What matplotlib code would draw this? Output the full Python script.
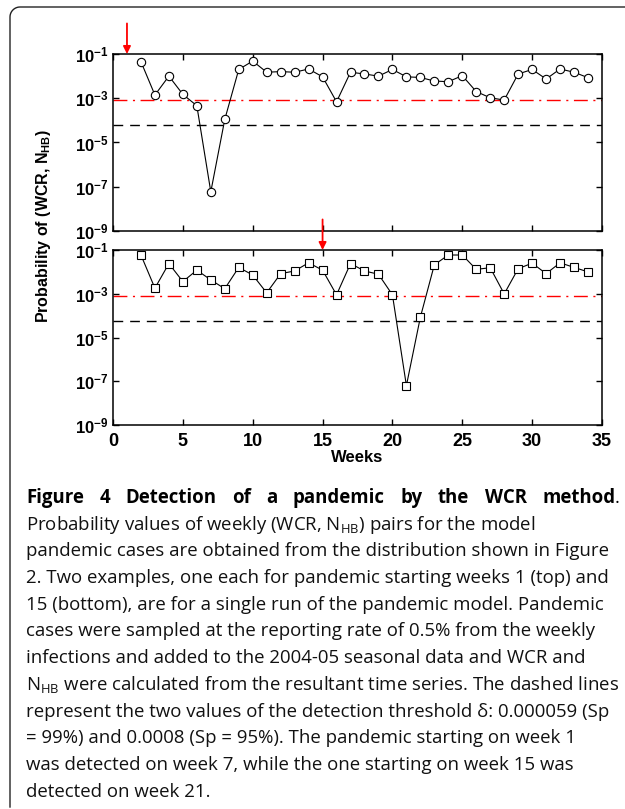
import matplotlib
matplotlib.use('Agg')
import matplotlib.pyplot as plt
import numpy as np
from matplotlib.lines import Line2D

# ---------------- data ----------------
weeks = list(range(2, 35))
prob_top = [0.045, 1.4e-3, 0.010, 1.5e-3, 4.6e-4, 5.9e-8, 1.1e-4, 0.020, 0.048,
            0.015, 0.016, 0.015, 0.021, 0.0093, 6.9e-4,
            0.015, 0.0125, 0.010, 0.020, 0.0093, 0.0087, 0.0060, 0.0056, 0.0105,
            0.0020, 1.05e-3, 8.3e-4, 0.0125, 0.020, 0.0074, 0.021, 0.015, 0.0085]
prob_bottom = [0.059, 1.8e-3, 0.024, 3.6e-3, 0.012, 4.3e-3, 1.7e-3, 0.016, 7.2e-3,
               1.1e-3, 8.3e-3, 0.011, 0.026, 0.012, 8.9e-4,
               0.024, 0.011, 7.8e-3, 8.9e-4, 6.3e-8, 8.5e-5, 0.021, 0.059, 0.059,
               0.013, 0.0155, 9.8e-4, 0.014, 0.025, 8.3e-3, 0.026, 0.016, 0.010]
threshold_99 = 5.9e-5
threshold_95 = 8e-4
start_weeks = [1, 15]
x_ticks = [0, 5, 10, 15, 20, 25, 30, 35]
y_ticks = [1e-1, 1e-3, 1e-5, 1e-7, 1e-9]
y_tick_labels = [r'$\mathregular{10^{-1}}$', r'$\mathregular{10^{-3}}$', r'$\mathregular{10^{-5}}$',
                 r'$\mathregular{10^{-7}}$', r'$\mathregular{10^{-9}}$']
x_label = 'Weeks'
y_label = r'Probability of (WCR, N$_{\mathregular{HB}}$)'

title_words = ['Figure', '4', 'Detection', 'of', 'a', 'pandemic', 'by', 'the', 'WCR', 'method']
caption_lines = [
    r'Probability values of weekly (WCR, N$_{\mathregular{HB}}$) pairs for the model',
    'pandemic cases are obtained from the distribution shown in Figure',
    '2. Two examples, one each for pandemic starting weeks 1 (top) and',
    '15 (bottom), are for a single run of the pandemic model. Pandemic',
    'cases were sampled at the reporting rate of 0.5% from the weekly',
    'infections and added to the 2004-05 seasonal data and WCR and',
    r'N$_{\mathregular{HB}}$ were calculated from the resultant time series. The dashed lines',
    'represent the two values of the detection threshold δ: 0.000059 (Sp',
    '= 99%) and 0.0008 (Sp = 95%). The pandemic starting on week 1',
    'was detected on week 7, while the one starting on week 15 was',
    'detected on week 21.',
]

# ---------------- figure ----------------
W, H = 625, 809
fig = plt.figure(figsize=(W / 100, H / 100), dpi=100)
fig.patch.set_facecolor('white')

def px_rect(l, t, r, b):
    return [l / W, 1 - b / H, (r - l) / W, (b - t) / H]

ax1 = fig.add_axes(px_rect(113, 54, 602, 231))
ax2 = fig.add_axes(px_rect(113, 250, 602, 425))

tick_font = dict(family='Liberation Sans', weight='bold')

for ax, data, marker, ms, sw in [(ax1, prob_top, 'o', 6.0, start_weeks[0]),
                                  (ax2, prob_bottom, 's', 5.2, start_weeks[1])]:
    ax.set_yscale('log')
    ax.plot(weeks, data, color='black', lw=0.8, marker=marker, ms=ms,
            mfc='white', mec='black', mew=0.8, zorder=3)
    ax.axhline(threshold_95, color='#ff0000', lw=1.0, dashes=(10, 4, 1.5, 4), zorder=2)
    ax.axhline(threshold_99, color='black', lw=1.0, dashes=(7, 5), zorder=2)
    ax.set_xlim(0, 35)
    ax.set_ylim(1e-9, 1e-1)
    ax.set_xticks(x_ticks)
    ax.set_yticks(y_ticks)
    ax.yaxis.set_minor_locator(matplotlib.ticker.NullLocator())
    ax.set_yticklabels(y_tick_labels, fontsize=12, **tick_font)
    ax.tick_params(axis='both', direction='in', length=4, width=1.0,
                   top=True, right=True, colors='black')
    ax.tick_params(axis='y', pad=3)
    ax.tick_params(axis='x', pad=6)
    for s in ax.spines.values():
        s.set_linewidth(1.1)
    ax.annotate('', xy=(sw, 1e-1), xytext=(0, 22), textcoords='offset points',
                arrowprops=dict(arrowstyle='-|>', color='#ff0000', lw=1.3,
                                mutation_scale=11, shrinkA=0, shrinkB=0),
                annotation_clip=False)

ax1.set_xticklabels([])
ax2.set_xticklabels([str(v) for v in x_ticks], fontsize=13, **tick_font)
ax2.set_xlabel(x_label, fontsize=12, labelpad=0, **tick_font)

fig.text(44 / W, 1 - 226 / H, y_label, rotation=90, ha='center', va='center',
         fontsize=11.5, **tick_font)

# ---------------- border ----------------
r = 10
theta = np.linspace(np.pi, np.pi / 2, 12)
bx = [10, 10] + list(10 + r + r * np.cos(theta)) + [625]
by = [807, 7 + r] + list(7 + r - r * np.sin(theta)) + [7]
fig.add_artist(Line2D([x / W for x in bx], [1 - y / H for y in by],
                      transform=fig.transFigure, color='#222222', lw=1.0))

# ---------------- caption ----------------
cap_font = ['Open Sans', 'DejaVu Sans']
fs = 13.4
line_h = 26.7
y0 = 498
renderer = fig.canvas.get_renderer()

# title line, justified from x=26 to x=618
texts = []
for w in title_words:
    t = fig.text(0, 1 - y0 / H, w, fontsize=fs, family=cap_font, weight='bold',
                 va='center', ha='left', color='black')
    texts.append(t)
dot = fig.text(0, 1 - y0 / H, '.', fontsize=fs, family=cap_font, va='center', ha='left')
widths = [t.get_window_extent(renderer).width for t in texts]
dot_w = dot.get_window_extent(renderer).width
left, right = 26, 620
gap = (right - left - sum(widths) - dot_w) / (len(texts) - 1)
x = left
for t, w in zip(texts, widths):
    t.set_x(x / W)
    x += w + gap
dot.set_x((x - gap) / W)

for i, line in enumerate(caption_lines):
    fig.text(26 / W, 1 - (y0 + line_h * (i + 1)) / H, line, fontsize=fs,
             family=cap_font, va='center', ha='left', color='#111111')

fig.savefig('out.png', dpi=100, facecolor='white')
